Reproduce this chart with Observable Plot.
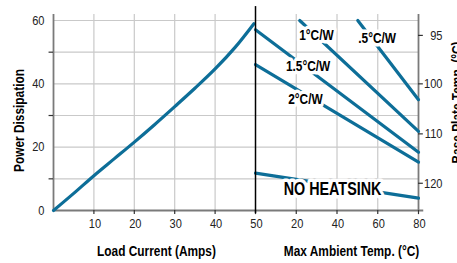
<!DOCTYPE html>
<html>
<head>
<meta charset="utf-8">
<script src="https://cdn.jsdelivr.net/npm/d3@7"></script>
<script src="https://cdn.jsdelivr.net/npm/@observablehq/plot@0.6"></script>
<style>
  html, body { margin: 0; padding: 0; background: white; }
</style>
</head>
<body>
<div id="chart"></div>
<script>
// ---- data ----
const loadCurrent      = [0, 5, 10, 15, 20, 25, 30, 35, 40, 45, 49.6];
const powerDissipation = [0, 5.4, 11.0, 16.3, 21.6, 27.1, 32.8, 38.6, 44.7, 51.6, 59.0];

const heatsinks    = ["NO HEATSINK", "2°C/W", "1.5°C/W", "1°C/W", ".5°C/W"];
const ambientStart = [0, 0, 0, 21.7, 50.2];
const ambientEnd   = [80, 80, 80, 80, 80];
const powerStart   = [11.8, 46.1, 57.1, 60, 60];
const powerEnd     = [3.9, 15.3, 18.4, 25.0, 35.0];
const labelTemp    = [37.8, 24.5, 25.8, 29.9, 59.7];
const labelPower   = [6.6, 35.0, 45.5, 55.3, 54.5];

const powerTicks      = [0, 20, 40, 60];
const powerMinorTicks = [10, 30, 50];
const powerGrid       = [10, 20, 30, 40, 50, 60];
const loadTicks       = [10, 20, 30, 40, 50];
const loadGrid        = [10, 20, 30, 40];
const ambientTicks    = [20, 40, 60, 80];
const ambientGrid     = [20, 40, 60];
const plateTickLabels = ["95", "100", "110", "120"];
const plateTickPower  = [55.3, 40.0, 24.2, 8.6];

// ---- layout: the right panel shares the x scale, temperature compressed ----
const K = 0.5043;                 // load-current units per °C
const tu = t => 50 + t * K;       // ambient temp -> shared x
const XMAX = tu(80);
const YTOP = 61.9;
const BLUE = "#0d6e98";
const AXIS = "#7a7a7a";
const GRID = "#c9c9c9";
const CONDENSE = 0.82;

const curve = loadCurrent.map((x, i) => ({x, p: powerDissipation[i]}));
const derate = heatsinks.flatMap((name, i) => [
  {name, t: ambientStart[i], p: powerStart[i]},
  {name, t: ambientEnd[i],   p: powerEnd[i]}
]);
const labels = heatsinks.map((name, i) => ({name, t: labelTemp[i], p: labelPower[i]}));
const plate = plateTickLabels.map((label, i) => ({label, p: plateTickPower[i]}));

const chart = Plot.plot({
  width: 457,
  height: 263,
  marginLeft: 53,
  marginRight: 39,
  marginTop: 14,
  marginBottom: 53,
  x: {domain: [0, XMAX], axis: null},
  y: {domain: [0, YTOP], axis: null},
  style: {
    fontFamily: "'Liberation Sans', Arial, sans-serif",
    fontSize: "13.5px",
    background: "white",
    color: "#222"
  },
  marks: [
    // grid
    Plot.ruleY(powerGrid, {y: d => d, x1: 0, x2: XMAX, stroke: GRID, strokeWidth: 1.2}),
    Plot.ruleX(loadGrid, {x: d => d, y1: 0, y2: YTOP, stroke: GRID, strokeWidth: 1.2}),
    Plot.ruleX(ambientGrid, {x: d => tu(d), y1: 0, y2: YTOP, stroke: GRID, strokeWidth: 1.2}),
    // axes lines
    Plot.ruleX([0], {y1: 0, y2: YTOP, stroke: AXIS, strokeWidth: 1.8}),
    Plot.ruleX([XMAX], {y1: 0, y2: YTOP, stroke: AXIS, strokeWidth: 1.8}),
    Plot.ruleY([0], {x1: 0, x2: XMAX + 1.3, stroke: AXIS, strokeWidth: 1.8}),
    // left minor ticks
    Plot.ruleY(powerMinorTicks, {y: d => d, x1: -1.1, x2: 0, stroke: "#333", strokeWidth: 1.2}),
    // bottom ticks
    Plot.ruleX(loadTicks, {x: d => d, y1: -1.3, y2: 0, stroke: "#333", strokeWidth: 1.2}),
    Plot.ruleX(ambientTicks, {x: d => tu(d), y1: -1.3, y2: 0, stroke: "#333", strokeWidth: 1.2}),
    // right ticks
    Plot.ruleY(plate, {y: "p", x1: XMAX, x2: XMAX + 1.2, stroke: "#333", strokeWidth: 1.2}),
    // data
    Plot.line(curve, {x: "x", y: "p", stroke: BLUE, strokeWidth: 3.2, curve: "catmull-rom"}),
    Plot.line(derate, {x: d => tu(d.t), y: "p", z: "name", stroke: BLUE, strokeWidth: 3.2}),
    // series labels with white halo (creates the line gaps)
    Plot.text(labels.filter(d => d.name !== "NO HEATSINK"), {
      x: d => tu(d.t), y: "p", text: "name", fontWeight: "bold", fontSize: 14.5,
      fill: "black", stroke: "white", strokeWidth: 7, strokeLinejoin: "round"
    }),
    Plot.text(labels.filter(d => d.name === "NO HEATSINK"), {
      x: d => tu(d.t), y: "p", text: "name", fontWeight: "bold", fontSize: 17.5,
      fill: "black", stroke: "white", strokeWidth: 7, strokeLinejoin: "round"
    }),
    // panel divider
    Plot.ruleX([50], {y1: -1, y2: 64.4, stroke: "black", strokeWidth: 1.5}),
    // tick labels
    Plot.text(powerTicks, {x: 0, y: d => d, text: d => String(d), textAnchor: "end", dx: -9, fill: "#222"}),
    Plot.text(loadTicks, {x: d => d, y: 0, text: d => String(d), dy: 13, dx: 1, fill: "#222"}),
    Plot.text(ambientTicks, {x: d => tu(d), y: 0, text: d => String(d), dy: 13, dx: 1, fill: "#222"}),
    Plot.text(plate, {x: XMAX, y: "p", text: "label", textAnchor: "end", dx: 24, fill: "#222"}),
    // axis titles
    Plot.text(["Power Dissipation"], {frameAnchor: "left", textAnchor: "middle", lineAnchor: "middle",
      dx: -34, dy: 8, rotate: -90, fontWeight: "bold", fontSize: 14.5, fill: "black"}),
    Plot.text(["Load Current (Amps)"], {x: 25, frameAnchor: "bottom", textAnchor: "middle", lineAnchor: "middle",
      dy: 41, dx: 2, fontWeight: "bold", fontSize: 14.5, fill: "black"}),
    Plot.text(["Max Ambient Temp. (°C)"], {x: tu(40), frameAnchor: "bottom", textAnchor: "middle", lineAnchor: "middle",
      dy: 41, dx: 14.5, fontWeight: "bold", fontSize: 14.5, fill: "black"}),
    Plot.text(["Base Plate Temp. (°C)"], {frameAnchor: "right", textAnchor: "middle", lineAnchor: "middle",
      dx: 39, dy: -10, rotate: -90, fontWeight: "bold", fontSize: 14.5, fill: "black"})
  ]
});
document.getElementById("chart").appendChild(chart);

// condensed look (like Helvetica Condensed): squeeze each text along its own run,
// around its anchor point, so start/middle/end alignment is preserved
chart.querySelectorAll("text").forEach(t => {
  const xs = t.getAttribute("x");
  let x = 0;
  if (xs !== null && /^-?[\d.]+$/.test(xs.trim())) {
    x = +xs;
    t.removeAttribute("x");
  } else if (xs !== null) {
    return; // unknown form: leave untouched
  }
  const prev = t.getAttribute("transform") || "";
  t.setAttribute("transform", `${prev} translate(${x},0) scale(${CONDENSE},1)`.trim());
});
</script>
</body>
</html>
